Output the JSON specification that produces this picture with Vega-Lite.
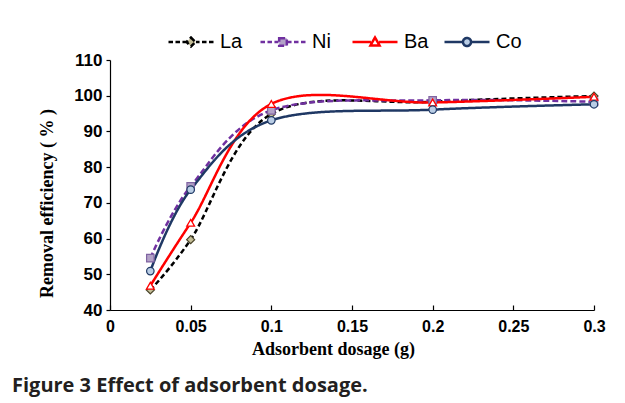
{
  "$schema": "https://vega.github.io/schema/vega-lite/v6.json",
  "width": 484,
  "height": 250,
  "autosize": {"type": "none"},
  "padding": {"left": 110, "top": 60, "right": 31, "bottom": 93},
  "background": "white",
  "title": {"text": "Figure 3 Effect of adsorbent dosage.", "orient": "bottom", "anchor": "start", "frame": "group", "dx": -98, "offset": 18, "font": "Open Sans", "fontSize": 20, "fontWeight": "bold", "color": "#231f20"},
  "config": {"view": {"stroke": null}},
  "data": {"values": [
    {"metal": "La", "dosage": 0.025, "efficiency": 45.6},
    {"metal": "La", "dosage": 0.05, "efficiency": 59.7},
    {"metal": "La", "dosage": 0.1, "efficiency": 94.9},
    {"metal": "La", "dosage": 0.2, "efficiency": 98.3},
    {"metal": "La", "dosage": 0.3, "efficiency": 99.9},
    {"metal": "Ni", "dosage": 0.025, "efficiency": 54.5},
    {"metal": "Ni", "dosage": 0.05, "efficiency": 74.6},
    {"metal": "Ni", "dosage": 0.1, "efficiency": 95.9},
    {"metal": "Ni", "dosage": 0.2, "efficiency": 98.7},
    {"metal": "Ni", "dosage": 0.3, "efficiency": 98.3},
    {"metal": "Ba", "dosage": 0.025, "efficiency": 46.8},
    {"metal": "Ba", "dosage": 0.05, "efficiency": 64.4},
    {"metal": "Ba", "dosage": 0.1, "efficiency": 97.7},
    {"metal": "Ba", "dosage": 0.2, "efficiency": 98.1},
    {"metal": "Ba", "dosage": 0.3, "efficiency": 99.7},
    {"metal": "Co", "dosage": 0.025, "efficiency": 50.9},
    {"metal": "Co", "dosage": 0.05, "efficiency": 73.7},
    {"metal": "Co", "dosage": 0.1, "efficiency": 93.1},
    {"metal": "Co", "dosage": 0.2, "efficiency": 96.1},
    {"metal": "Co", "dosage": 0.3, "efficiency": 97.6}
  ]},
  "encoding": {
    "x": {"field": "dosage", "type": "quantitative", "scale": {"domain": [0, 0.3], "nice": false},
      "axis": {"values": [0, 0.05, 0.1, 0.15, 0.2, 0.25, 0.3], "format": ".2~f", "grid": false,
        "labelFont": "Liberation Sans", "labelFontSize": 16, "labelFontWeight": "bold", "labelColor": "black",
        "labelFlush": false, "labelOverlap": false, "tickSize": -5, "labelPadding": 13,
        "domainColor": "black", "tickColor": "black", "domainWidth": 1.2, "tickWidth": 1.2,
        "title": "Adsorbent dosage (g)", "titleFont": "Liberation Serif", "titleFontSize": 18, "titleFontWeight": "bold", "titleColor": "black",
        "titleX": 223, "titleY": 30}},
    "y": {"field": "efficiency", "type": "quantitative", "scale": {"domain": [40, 110], "nice": false, "zero": false},
      "axis": {"values": [40, 50, 60, 70, 80, 90, 100, 110], "grid": false,
        "labelFont": "Liberation Sans", "labelFontSize": 17, "labelFontWeight": "bold", "labelColor": "black",
        "labelFlush": false, "labelOverlap": false, "tickSize": 4, "labelPadding": 4,
        "domainColor": "black", "tickColor": "black", "domainWidth": 1.2, "tickWidth": 1.2,
        "title": "Removal efficiency ( % )", "titleFont": "Liberation Serif", "titleFontSize": 18, "titleFontWeight": "bold", "titleColor": "black",
        "titleX": -54, "titleY": 143}}
  },
  "layer": [
    {
      "mark": {"type": "line", "interpolate": "cardinal", "strokeWidth": 2.5},
      "encoding": {
        "color": {"field": "metal", "type": "nominal",
          "scale": {"domain": ["La", "Ni", "Ba", "Co"], "range": ["#000000", "#7030a0", "#ff0000", "#1f3864"]},
          "legend": {"orient": "none", "legendX": 57, "legendY": -42, "direction": "horizontal", "title": null,
            "symbolSize": 2025, "symbolStrokeWidth": 2.5, "labelFont": "Liberation Sans", "labelFontSize": 20,
            "labelColor": "black", "labelOffset": 5, "columnPadding": 9, "gridAlign": "all",
            "encode": {"symbols": {"update": {
              "shape": {"signal": "datum.value === 'La' ? 'M-1,0H-0.8M-0.69,0H-0.49M-0.38,0H-0.22M0.22,0H0.38M0.49,0H0.69M0.8,0H1M0,-0.2L0.2,0L0,0.2L-0.2,0Z' : datum.value === 'Ni' ? 'M-1,0H-0.8M-0.69,0H-0.49M-0.38,0H-0.2M0.2,0H0.38M0.49,0H0.69M0.8,0H1M-0.17,-0.17H0.17V0.17H-0.17Z' : datum.value === 'Ba' ? 'M-1,0H-0.18M0.18,0H1M0,-0.2L0.2,0.15L-0.2,0.15Z' : 'M-1,0H-0.18M0.18,0H1M-0.18,0A0.18,0.18 0 1,0 0.18,0A0.18,0.18 0 1,0 -0.18,0Z'"},
              "fill": {"signal": "datum.value === 'La' ? '#c4bd97' : datum.value === 'Ni' ? '#b3a2c7' : datum.value === 'Ba' ? '#ffffff' : '#b9cde5'"},
              "strokeDash": {"value": [1, 0]},
              "strokeWidth": {"value": 2.5},
              "size": {"value": 2025},
              "opacity": {"value": 1}
            }}}}},
        "strokeDash": {"field": "metal", "type": "nominal",
          "scale": {"domain": ["La", "Ni", "Ba", "Co"], "range": [[5, 3], [6, 3], [1, 0], [1, 0]]},
          "legend": null}
      }
    },
    {
      "transform": [{"filter": "datum.metal === 'La'"}],
      "mark": {"type": "point", "shape": "diamond", "filled": true, "size": 64, "strokeWidth": 1.2, "opacity": 1, "fill": "#c4bd97", "stroke": "#494429"}
    },
    {
      "transform": [{"filter": "datum.metal === 'Ni'"}],
      "mark": {"type": "point", "shape": "square", "filled": true, "size": 56, "strokeWidth": 1.2, "opacity": 1, "fill": "#b3a2c7", "stroke": "#8064a2"}
    },
    {
      "transform": [{"filter": "datum.metal === 'Ba'"}],
      "mark": {"type": "point", "shape": "triangle-up", "filled": true, "size": 60, "strokeWidth": 1.3, "opacity": 1, "fill": "#ffffff", "stroke": "#ff0000"}
    },
    {
      "transform": [{"filter": "datum.metal === 'Co'"}],
      "mark": {"type": "point", "shape": "circle", "filled": true, "size": 56, "strokeWidth": 1.2, "opacity": 1, "fill": "#b9cde5", "stroke": "#1f3864"}
    }
  ]
}
